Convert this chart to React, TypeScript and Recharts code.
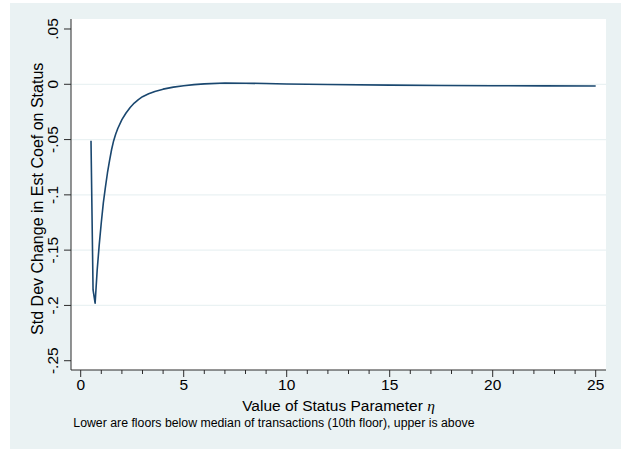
import React from 'react';
import { LineChart, Line, XAxis, YAxis, CartesianGrid } from 'recharts';

// Status parameter eta and the std-dev change in the estimated coefficient
const etaValues = [
  0.5, 0.6, 0.7, 0.8, 0.9, 1.0, 1.1, 1.2, 1.3, 1.4, 1.5, 1.6, 1.7, 1.8, 2.0,
  2.2, 2.4, 2.6, 2.8, 3.0, 3.3, 3.6, 4.0, 4.5, 5.0, 5.5, 6.0, 7.0, 8.0, 9.0,
  10.0, 12.0, 15.0, 17.5, 20.0, 22.5, 25.0,
];
const coefChange = [
  -0.051, -0.186, -0.198, -0.168, -0.145, -0.125, -0.107, -0.093, -0.08,
  -0.069, -0.059, -0.051, -0.045, -0.04, -0.032, -0.026, -0.021, -0.017,
  -0.0138, -0.0112, -0.0085, -0.0065, -0.0044, -0.0026, -0.0013, -0.0003,
  0.0004, 0.0011, 0.001, 0.0007, 0.0003, -0.0002, -0.0008, -0.0011, -0.0013,
  -0.0014, -0.0015,
];

const xTicks = [
  0, 1, 2, 3, 4, 5, 6, 7, 8, 9, 10, 11, 12, 13, 14, 15, 16, 17, 18, 19, 20, 21,
  22, 23, 24, 25,
];
const xLabelTicks = [0, 5, 10, 15, 20, 25];
const yTicks = [0.05, 0, -0.05, -0.1, -0.15, -0.2, -0.25];
const yTickLabels = ['.05', '0', '-.05', '-.1', '-.15', '-.2', '-.25'];
const gridValues = [0, -0.05, -0.1, -0.15, -0.2];

const yTitle = 'Std Dev Change in Est Coef on Status';
const xTitle = 'Value of Status Parameter ';
const caption =
  'Lower are floors below median of transactions (10th floor), upper is above';

const data = etaValues.map((eta, i) => ({ eta, value: coefChange[i] }));

const FONT = '"Liberation Sans", Arial, Helvetica, sans-serif';
const AXIS = '#2b2b2b';
const LINE = '#1a476f';
const BG = '#eaf2f3';

const XTick = (props: any) => {
  const { x, y, payload } = props;
  const v = payload.value as number;
  const major = xLabelTicks.includes(v);
  return (
    <g>
      <line x1={x} x2={x} y1={y} y2={y + (major ? 7 : 4)} stroke={AXIS} strokeWidth={1} />
      {major && (
        <text x={x} y={y + 19.5} textAnchor="middle" fontSize={15.5} fontFamily={FONT} fill="#000">
          {String(v)}
        </text>
      )}
    </g>
  );
};

const YTick = (props: any) => {
  const { x, y, payload } = props;
  const idx = yTicks.findIndex((t) => Math.abs(t - payload.value) < 1e-9);
  const label = idx >= 0 ? yTickLabels[idx] : String(payload.value);
  const bx = x - 12.7;
  return (
    <g>
      <line x1={x - 7} x2={x} y1={y} y2={y} stroke={AXIS} strokeWidth={1} />
      <text
        x={bx}
        y={y}
        transform={`rotate(-90, ${bx}, ${y})`}
        textAnchor="middle"
        fontSize={15.5}
        fontFamily={FONT}
        fill="#000"
      >
        {label}
      </text>
    </g>
  );
};

export default function App() {
  return (
    <div style={{ position: 'absolute', left: 0, top: 0, width: 621, height: 449, background: '#fff' }}>
      <div style={{ position: 'absolute', left: 10, top: 3, width: 611, height: 446, background: BG }} />
      <div style={{ position: 'absolute', left: 0, top: 0 }}>
        <LineChart
          width={621}
          height={449}
          data={data}
          margin={{ top: 19, right: 15, bottom: 0, left: 10 }}
        >
          <CartesianGrid
            vertical={false}
            horizontalValues={gridValues}
            stroke={BG}
            strokeWidth={1.2}
            fill="#ffffff"
          />
          <XAxis
            dataKey="eta"
            type="number"
            domain={[-0.471, 25.5]}
            allowDataOverflow
            ticks={xTicks}
            interval={0}
            tickSize={0}
            tickMargin={0}
            tickLine={false}
            height={79}
            axisLine={{ stroke: AXIS, strokeWidth: 1 }}
            tick={<XTick />}
          />
          <YAxis
            type="number"
            domain={[-0.2584, 0.05904]}
            allowDataOverflow
            ticks={yTicks}
            interval={0}
            tickSize={0}
            tickMargin={0}
            tickLine={false}
            width={61}
            axisLine={{ stroke: AXIS, strokeWidth: 1 }}
            tick={<YTick />}
          />
          <Line
            type="linear"
            dataKey="value"
            stroke={LINE}
            strokeWidth={1.6}
            strokeLinejoin="round"
            dot={false}
            isAnimationActive={false}
          />
        </LineChart>
      </div>
      <svg
        width={621}
        height={449}
        style={{ position: 'absolute', left: 0, top: 0, pointerEvents: 'none' }}
      >
        <text
          x={42.7}
          y={198.8}
          transform="rotate(-90, 42.7, 198.8)"
          textAnchor="middle"
          fontSize={16}
          fontFamily={FONT}
          fill="#000"
        >
          {yTitle}
        </text>
        <text x={338.5} y={410.5} textAnchor="middle" fontSize={15.5} fontFamily={FONT} fill="#000">
          {xTitle}
          <tspan fontFamily='"Liberation Serif", "DejaVu Serif", serif' fontStyle="italic">
            η
          </tspan>
        </text>
        <text x={73.3} y={427} fontSize={12.3} fontFamily={FONT} fill="#000">
          {caption}
        </text>
      </svg>
    </div>
  );
}
